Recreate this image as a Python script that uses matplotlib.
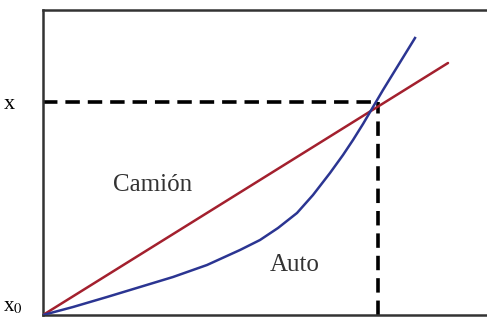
import matplotlib.pyplot as plt

# camion: straight line (pixel-derived units)
camion_t = [0, 405]
camion_x = [0, 252]

# auto: curve
auto_t = [0, 30, 64, 97, 130, 164, 197, 217, 235, 254, 270, 287, 300, 310, 320, 330, 340, 356, 372]
auto_x = [0, 8, 18, 28, 38, 50, 65, 75, 87, 102, 120, 142, 160, 175, 191, 208, 225, 251, 277]

# meeting point
t_cross = 335
x_cross = 213

plt.rcParams['font.family'] = ['Liberation Serif', 'DejaVu Serif']
plt.rcParams['mathtext.fontset'] = 'stix'
fig = plt.figure(figsize=(4.87, 3.18), dpi=100)
ax = fig.add_axes([43 / 487, 3 / 318, 444 / 487, 305 / 318])
ax.set_xlim(0, 444)
ax.set_ylim(0, 305)

ax.plot(camion_t, camion_x, color="#a3202e", lw=1.8, zorder=3, solid_capstyle="round")
ax.plot(auto_t, auto_x, color="#2b3592", lw=1.8, zorder=3, solid_joinstyle="round")

ax.plot([0, t_cross], [x_cross, x_cross], color="black", lw=2.6, ls=(0, (4, 2.2)), zorder=2)
ax.plot([t_cross, t_cross], [0, x_cross], color="black", lw=2.6, ls=(0, (4, 2.2)), zorder=2)

ax.text(70, 130, "Camión", fontsize=18, color="#333333", ha="left", va="center")
ax.text(227, 50, "Auto", fontsize=18, color="#333333", ha="left", va="center")

ax.set_xticks([])
ax.set_yticks([x_cross], ["x"], fontsize=16)
ax.tick_params(axis="y", length=0, pad=20)
ax.text(-20, -1, "x$_0$", fontsize=15, ha="right", va="bottom")

ax.spines["right"].set_visible(False)
for s in ["left", "top", "bottom"]:
    ax.spines[s].set_linewidth(1.8)
    ax.spines[s].set_color("#333333")

plt.savefig("out.png", dpi=100)
plt.close()
